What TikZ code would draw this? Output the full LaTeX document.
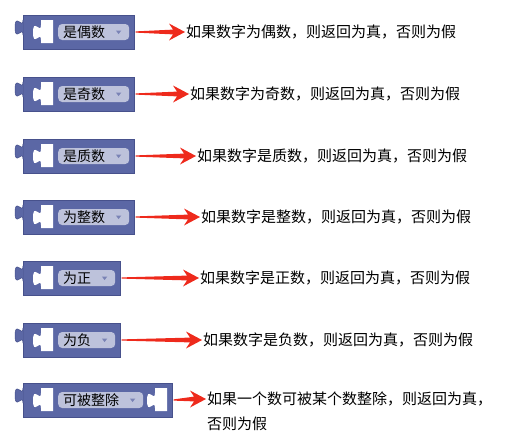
\documentclass[tikz,border=0pt]{standalone}
\usepackage{fontspec}
\newfontfamily\cjk{Noto Sans CJK SC}
\usetikzlibrary{positioning,calc}

\definecolor{blockblue}{HTML}{5B67A5}
\definecolor{blockedge}{HTML}{47518C}
\definecolor{pillfill}{HTML}{BDC2DB}
\definecolor{droparrow}{HTML}{7A83B5}
\definecolor{arrowred}{HTML}{EE2A1C}
\newcommand\pillfont{\cjk\fontsize{14}{14}\selectfont}
\newcommand\descfont{\cjk\fontsize{15}{15}\selectfont}

\begin{document}
\begin{tikzpicture}[x=1pt,y=-1pt,
    block_body/.style ={rectangle, draw=blockedge, fill=blockblue, line width=0.5pt,
      minimum height=34pt, inner sep=0pt, anchor=west},
    block_pill/.style ={rectangle, rounded corners=4pt, fill=pillfill, text=black,
      font=\pillfont, inner xsep=5pt, inner ysep=0pt, minimum height=16pt, anchor=west},
    block_desc/.style ={rectangle, draw=none, fill=none, inner sep=0pt, anchor=west,
      font=\descfont},
    arrow_red/.style ={fill=arrowred, draw=none},
    pics/outer_tab/.style ={code={
      \fill[blockblue] (0.6,5) -- (0,5) .. controls (0,15) and (-8,-3) .. (-8,12.5)
        .. controls (-8,28) and (0,10) .. (0,20) -- (0.6,20) -- cycle;
      \draw[blockedge, line width=0.5pt] (0,5) .. controls (0,15) and (-8,-3) .. (-8,12.5)
        .. controls (-8,28) and (0,10) .. (0,20);}},
    pics/socket/.style ={code={
      \fill[white] (12,0) -- (0,0) -- (0,5) .. controls (0,15) and (-8,-3) .. (-8,12.5)
        .. controls (-8,28) and (0,10) .. (0,20) -- (0,23) -- (12,23) -- cycle;}}]
  \useasboundingbox (0,0) rectangle (521,431);
  % one row per math block: body, tab, socket, dropdown, text, arrow
  \foreach \i/\yc/\bw/\lbl/\tx/\txt in {
      1/32/111/是偶数/186/如果数字为偶数，则返回为真，否则为假,
      2/94/111/是奇数/190/如果数字为奇数，则返回为真，否则为假,
      3/156/111/是质数/197/如果数字是质数，则返回为真，否则为假,
      4/217/111/为整数/201/如果数字是整数，则返回为真，否则为假,
      5/278/97/为正/200/如果数字是正数，则返回为真，否则为假,
      6/340/97/为负/203/如果数字是负数，则返回为真，否则为假}{
    \node[block_body, minimum width=\bw pt] (b\i) at (23,\yc) {};
    \pic at (23,\yc-17) {outer_tab};
    \pic at (41,\yc-12) {socket};
    \node[block_pill] (p\i) at (58,\yc) {\lbl\rule{19pt}{0pt}};
    \fill[droparrow] ($(p\i.east)+(-13.5,-1.5)$) -- ++(5.4,0) -- ++(-2.7,3.6) -- cycle;
    \node[block_desc] (t\i) at (\tx,\yc) {\txt};
    \fill[arrow_red] let \p1=([xshift=1pt]b\i.east), \p2=([xshift=-1pt]t\i.west) in
      (\x1,\y1+0.6pt) -- (\x2-12pt,\y2+2.4pt) -- (\x2-16pt,\y2+8.5pt) -- (\x2,\y2)
      -- (\x2-16pt,\y2-8.5pt) -- (\x2-12pt,\y2-2.4pt) -- (\x1,\y1-0.6pt) -- cycle;
  }
  % divisible block with a second socket
  \node[block_body, minimum width=149pt] (b7) at (23,400) {};
  \pic at (23,383) {outer_tab};
  \pic at (41,388) {socket};
  \node[block_pill] (p7) at (58,400) {可被整除\rule{19pt}{0pt}};
  \fill[droparrow] ($(p7.east)+(-13.5,-1.5)$) -- ++(5.4,0) -- ++(-2.7,3.6) -- cycle;
  \pic at (155,388) {socket};
  \node[block_desc] (t7) at (207,399) {如果一个数可被某个数整除，则返回为真，};
  \node[block_desc] (t7b) at ([yshift=-25pt]t7.west) {否则为假};
  \fill[arrow_red] let \p1=([xshift=1pt]b7.east), \p2=([xshift=-1pt]t7.west) in
    (\x1,\y1+0.6pt) -- (\x2-12pt,\y2+2.4pt) -- (\x2-16pt,\y2+8.5pt) -- (\x2,\y2)
    -- (\x2-16pt,\y2-8.5pt) -- (\x2-12pt,\y2-2.4pt) -- (\x1,\y1-0.6pt) -- cycle;
\end{tikzpicture}
\end{document}
